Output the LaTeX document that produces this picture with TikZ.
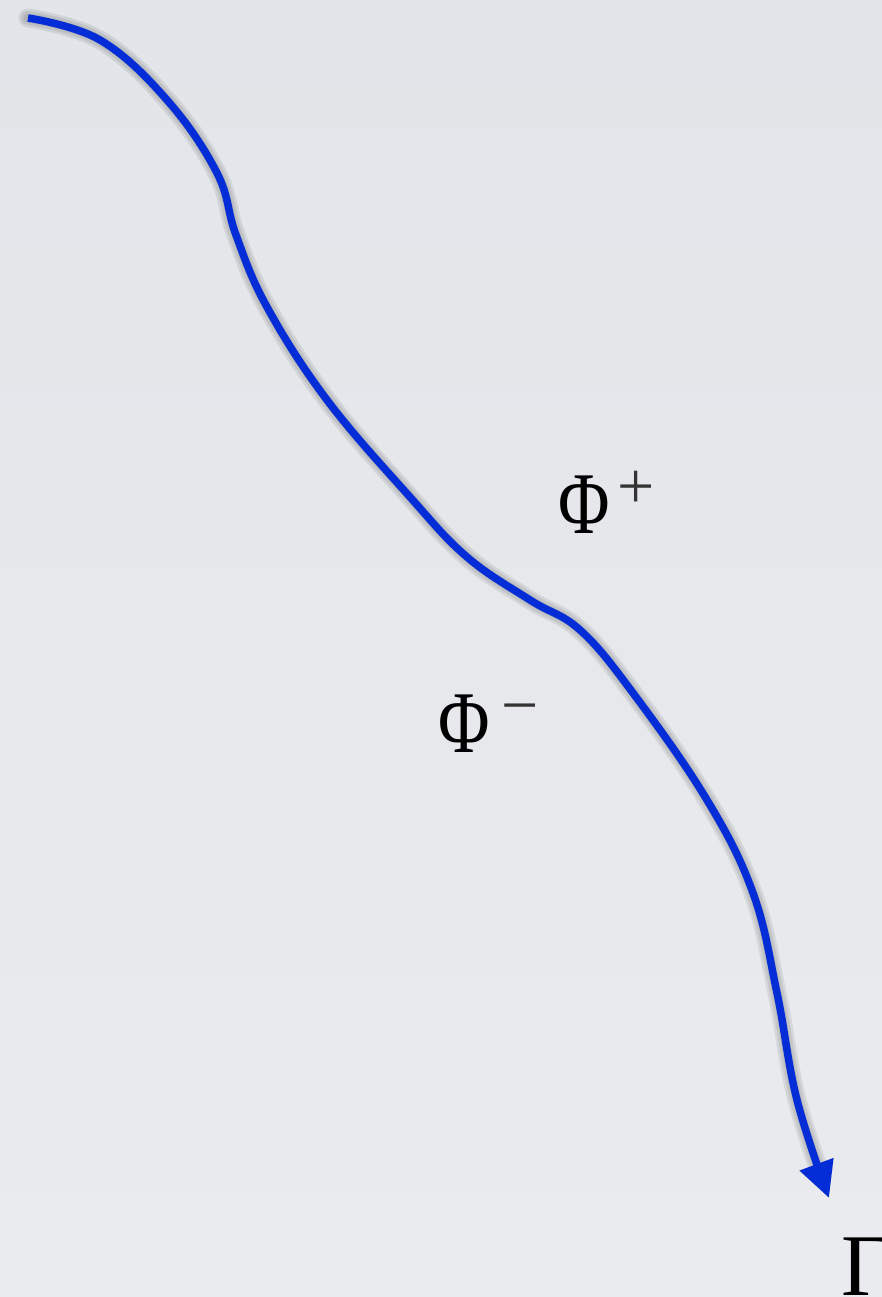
\documentclass[tikz,border=0pt]{standalone}
\usepackage{fontspec}
\setmainfont{Liberation Serif}
\usetikzlibrary{arrows.meta}

\definecolor{papertop}{RGB}{226,229,233}
\definecolor{paperbot}{RGB}{234,235,238}
\definecolor{pathblue}{RGB}{5,45,215}

\newcommand{\suplbl}[1]{\raisebox{25pt}{\fontsize{66}{70}\selectfont\color{black!80}#1}}
\newcommand{\philbl}{\scalebox{0.8}[1]{Φ}}

\begin{document}
\begin{tikzpicture}[
    x=1pt, y=-1pt,
    curve/.style={line width=7.5pt, color=pathblue, line cap=butt,
        -{Triangle[length=36pt, width=34pt]}},
    curveshadow/.style={line width=#1, color=black, opacity=0.08,
        line cap=round, -{Triangle[length=36pt, width=34pt]}},
    lbl/.style={inner sep=0pt, anchor=base west,
        font=\fontsize{88}{100}\selectfont}
]

% Background
\shade[top color=papertop, bottom color=paperbot] (0,0) rectangle (882,1297);
\useasboundingbox (0,0) rectangle (882,1297);

% Curve points
\coordinate (start) at (28,18);
\coordinate (p1) at (100,40);
\coordinate (p2) at (167,100);
\coordinate (p3) at (217,173);
\coordinate (p4) at (236,235);
\coordinate (p5) at (267,307);
\coordinate (p6) at (327,400);
\coordinate (p7) at (410,497);
\coordinate (p8) at (467,557);
\coordinate (p9) at (530,600);
\coordinate (p10) at (580,630);
\coordinate (p11) at (633,693);
\coordinate (p12) at (707,800);
\coordinate (p13) at (753,893);
\coordinate (p14) at (777,993);
\coordinate (p15) at (797,1100);
\coordinate (tip) at (829,1198);

% Shadow
\foreach \w in {19pt, 14pt, 9pt}
    \draw[curveshadow=\w, shift={(5,7)}]
        plot[smooth, tension=0.65] coordinates {(start) (p1) (p2) (p3) (p4)
        (p5) (p6) (p7) (p8) (p9) (p10) (p11) (p12) (p13) (p14) (p15) (tip)};

% Curve
\draw[curve] plot[smooth, tension=0.65] coordinates {(start) (p1) (p2) (p3)
    (p4) (p5) (p6) (p7) (p8) (p9) (p10) (p11) (p12) (p13) (p14) (p15) (tip)};

% Labels
\node[lbl] (phiplus) at (558,533) {\philbl\hspace{8pt}\suplbl{+}};
\node[lbl] (phiminus) at (438,752) {\philbl\hspace{12pt}\suplbl{−}};
\node[lbl] (gamma) at (841,1295) {Γ};

\end{tikzpicture}
\end{document}
